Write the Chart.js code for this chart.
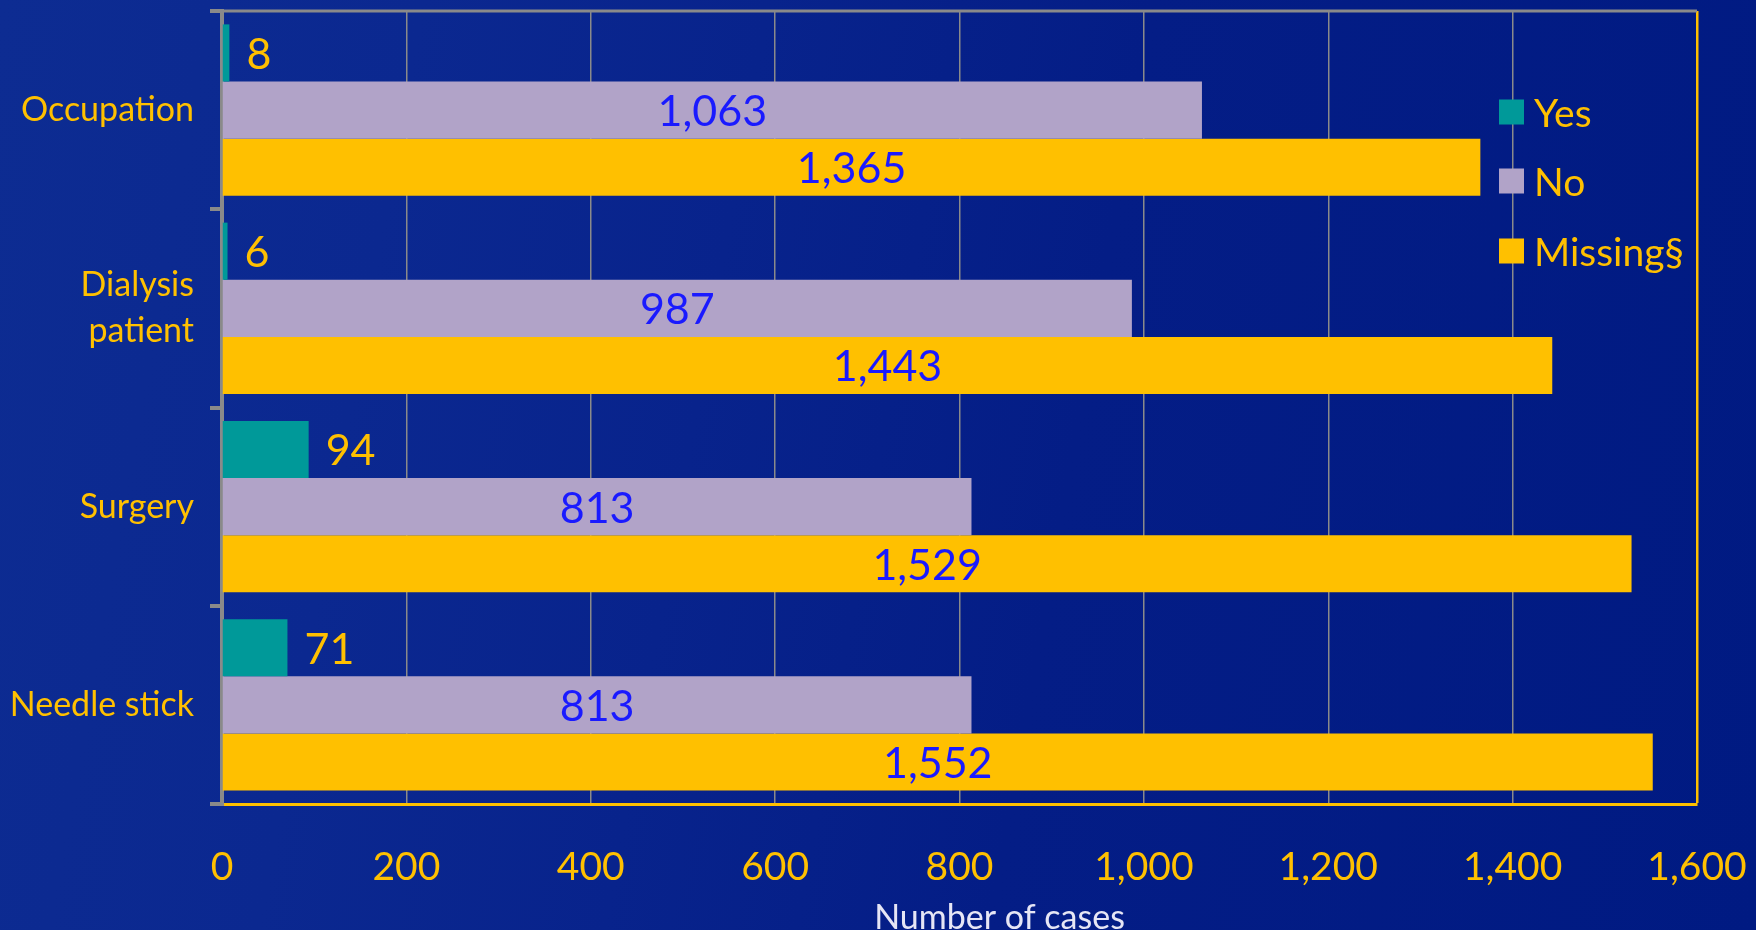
<!DOCTYPE html>
<html>
<head>
<meta charset="utf-8">
<script src="https://cdn.jsdelivr.net/npm/chart.js@4/dist/chart.umd.min.js"></script>
<style>
  html, body { margin: 0; padding: 0; overflow: hidden; }
  body {
    width: 1756px; height: 930px;
    background: linear-gradient(100deg, #0d2c92 0%, #0b2890 22%, #08238c 40%, #041d86 60%, #001a82 100%);
  }
  #caixa { position: relative; width: 1756px; height: 930px; }
</style>
</head>
<body>
<div id="caixa"><canvas id="grafico"></canvas></div>
<script>
// dados do gráfico
const categorias = ['Occupation', ['Dialysis', 'patient'], 'Surgery', 'Needle stick'];
const valoresSim = [8, 6, 94, 71];
const valoresNao = [1063, 987, 813, 813];
const valoresFaltando = [1365, 1443, 1529, 1552];
const nomesSeries = ['Yes', 'No', 'Missing§'];
const eixoX = { min: 0, max: 1600, passo: 200 };
const tituloX = 'Number of cases';

const AMARELO = '#FFC000';
const CINZA = '#8a8a8a';
const FONTE = 'Lato, "Open Sans", sans-serif';

// rótulos dos valores nas barras
const rotulosBarras = {
  id: 'rotulosBarras',
  afterDatasetsDraw(chart) {
    const ctx = chart.ctx;
    chart.data.datasets.forEach((ds, i) => {
      const meta = chart.getDatasetMeta(i);
      meta.data.forEach((barra, j) => {
        const texto = ds.data[j].toLocaleString('en-US');
        ctx.save();
        ctx.font = '43px ' + FONTE;
        ctx.textBaseline = 'middle';
        if (i === 0) {
          ctx.fillStyle = AMARELO;
          ctx.textAlign = 'left';
          ctx.fillText(texto, barra.x + 17, barra.y + 2);
        } else {
          ctx.fillStyle = '#1a1aff';
          ctx.textAlign = 'center';
          ctx.fillText(texto, (barra.x + barra.base) / 2, barra.y + 2);
        }
        ctx.restore();
      });
    });
  }
};

// borda de cima, legenda dentro da área e título do eixo X
const bordaELegenda = {
  id: 'bordaELegenda',
  afterDraw(chart) {
    const ctx = chart.ctx;
    const area = chart.chartArea;
    ctx.save();
    ctx.strokeStyle = CINZA;
    ctx.lineWidth = 3;
    ctx.beginPath();
    ctx.moveTo(area.left, area.top);
    ctx.lineTo(area.right, area.top);
    ctx.stroke();

    // legenda
    const x0 = 1499, ys = [112, 181, 251], lado = 25;
    ctx.font = '39px ' + FONTE;
    ctx.textBaseline = 'middle';
    ctx.textAlign = 'left';
    chart.data.datasets.forEach((ds, i) => {
      ctx.fillStyle = ds.backgroundColor;
      ctx.fillRect(x0, ys[i] - lado / 2, lado, lado);
      ctx.fillStyle = AMARELO;
      ctx.fillText(ds.label, x0 + 35, ys[i] + 2);
    });

    // título do eixo (um pouco à direita do centro, como no original)
    ctx.font = '34px ' + FONTE;
    ctx.fillStyle = '#e6e6f5';
    ctx.textAlign = 'center';
    ctx.fillText(tituloX, (area.left + area.right) / 2 + 40, 918);
    ctx.restore();
  }
};

const ctx = document.getElementById('grafico').getContext('2d');
const grafico = new Chart(ctx, {
  type: 'bar',
  data: {
    labels: categorias,
    datasets: [
      { label: nomesSeries[0], data: valoresSim, backgroundColor: '#009999' },
      { label: nomesSeries[1], data: valoresNao, backgroundColor: '#B1A3C8' },
      { label: nomesSeries[2], data: valoresFaltando, backgroundColor: AMARELO }
    ]
  },
  options: {
    indexAxis: 'y',
    responsive: true,
    maintainAspectRatio: false,
    animation: false,
    categoryPercentage: 0.865,
    barPercentage: 1.0,
    layout: { padding: { top: 11, right: 59, left: 0, bottom: 0 } },
    plugins: {
      legend: { display: false },
      tooltip: { enabled: false }
    },
    scales: {
      x: {
        min: eixoX.min,
        max: eixoX.max,
        ticks: {
          stepSize: eixoX.passo,
          color: AMARELO,
          font: { family: FONTE, size: 39 },
          padding: 40,
          callback: v => v.toLocaleString('en-US')
        },
        grid: {
          drawTicks: false,
          color: c => (c.tick && c.tick.value === eixoX.max) ? AMARELO : CINZA,
          lineWidth: c => (c.tick && c.tick.value === eixoX.max) ? 2.5 : 1.5
        },
        border: { color: AMARELO, width: 3 },
        afterFit: escala => {
          escala.height = 126;
          escala.paddingLeft = 0;
          escala.paddingRight = 0;
        }
      },
      y: {
        ticks: {
          color: AMARELO,
          font: { family: FONTE, size: 34, lineHeight: 1.35 },
          padding: 16
        },
        grid: {
          offset: true,
          drawOnChartArea: false,
          tickLength: 12,
          color: CINZA,
          lineWidth: 4
        },
        border: { color: CINZA, width: 4 },
        afterFit: escala => {
          escala.width = 222;
          escala.paddingTop = 0;
          escala.paddingBottom = 0;
        }
      }
    }
  },
  plugins: [rotulosBarras, bordaELegenda]
});
</script>
</body>
</html>
